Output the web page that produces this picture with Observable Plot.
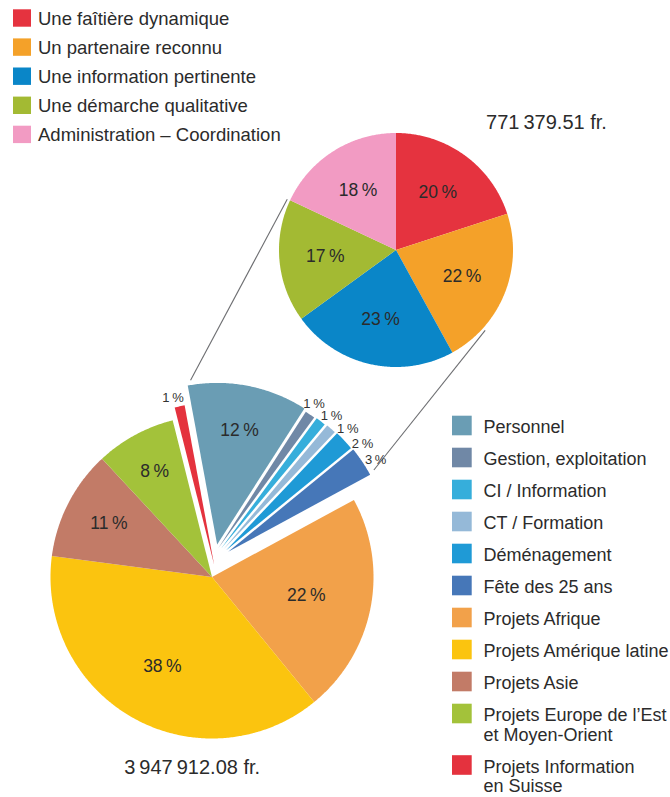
<!DOCTYPE html>
<html><head><meta charset="utf-8">
<script src="https://cdn.jsdelivr.net/npm/d3@7"></script>
<script src="https://cdn.jsdelivr.net/npm/@observablehq/plot@0.6"></script>
<style>body{margin:0;background:#fff;}</style>
</head><body><div id="chart"></div>
<script>
// ---------- DATA ----------
const bigCategories = ["Personnel", "Gestion, exploitation", "CI / Information", "CT / Formation", "Déménagement", "Fête des 25 ans", "Projets Afrique", "Projets Amérique latine", "Projets Asie", "Projets Europe de l’Est\net Moyen-Orient", "Projets Information\nen Suisse"];
const bigValues = [12, 1, 1, 1, 2, 3, 22, 38, 11, 8, 1];
const bigColors = ["#6a9db4", "#7088a6", "#36aedb", "#95b9d8", "#1f9ad6", "#4677b8", "#f2a14a", "#fbc40f", "#c27b67", "#a3c23a", "#e4323e"];
const bigTotal = 3947912.08;

const smallCategories = ["Une faîtière dynamique", "Un partenaire reconnu", "Une information pertinente", "Une démarche qualitative", "Administration – Coordination"];
const smallValues = [20, 22, 23, 17, 18];
const smallColors = ["#e5333f", "#f4a129", "#0a86c8", "#a3ba33", "#f29bc3"];
const smallTotal = 771379.51;

// ---------- LAYOUT ----------
const W = 670, H = 797;
const bigC = {x: 211.5, y: 576.5, r: 161.5, start: -10.5};
const explode = [[33, 9], [30, 12.7], [30, 17.7], [30, 22.7], [30, 27.7], [30, 32.7], [0, 0], [0, 0], [0, 0], [0, 0], [13, 9]];
const inLabelR = [116, null, null, null, null, null, 96, 102, 116, 120, null];
const smallC = {x: 395.5, y: 249.5, r: 117, start: 0, labelR: 71};
const font = "'Liberation Sans', Arial, sans-serif";
const ink = "#2b2b2b";

const rad = d => d * Math.PI / 180;
const pt = (cx, cy, r, a) => ({x: cx + r * Math.sin(a), y: cy - r * Math.cos(a)});
const pct = v => `${v}\u2009%`;
const fmt = v => d3.format(",.2f")(v).replace(/,/g, "\u2009") + " fr.";

const sliceRows = [];
function addSlice(id, color, cx, cy, r, a0, a1) {
  sliceRows.push({id, color, x: cx, y: cy});
  const n = Math.max(2, Math.ceil((a1 - a0) / rad(0.5)));
  for (let k = 0; k <= n; k++) sliceRows.push({id, color, ...pt(cx, cy, r, a0 + (a1 - a0) * k / n)});
}

// big pie
const bigArcs = d3.pie().sort(null).startAngle(rad(bigC.start)).endAngle(rad(bigC.start + 360))(bigValues);
const vertices = bigArcs.map((a, i) => {
  const [dist, dir] = explode[i];
  return pt(bigC.x, bigC.y, dist, rad(dir));
});
bigArcs.forEach((a, i) => addSlice("b" + i, bigColors[i], vertices[i].x, vertices[i].y, bigC.r, a.startAngle, a.endAngle));

const bigLabels = [];
const smallLabelsOut = [];
bigArcs.forEach((a, i) => {
  const mid = (a.startAngle + a.endAngle) / 2;
  if (inLabelR[i] != null) bigLabels.push({...pt(vertices[i].x, vertices[i].y, inLabelR[i], mid), text: pct(bigValues[i])});
});
// outside labels for the thin exploded slices (spread to avoid overlap)
const outIdx = [1, 2, 3, 4, 5];
const mids = outIdx.map(i => (bigArcs[i].startAngle + bigArcs[i].endAngle) / 2);
const gap = rad(6);
const spread = [];
mids.forEach((m, k) => spread.push(k === 0 ? m : Math.max(m, spread[k - 1] + gap)));
const shift = d3.mean(mids) - rad(1) - d3.mean(spread);
outIdx.forEach((i, k) => smallLabelsOut.push({...pt(bigC.x, bigC.y, 201, spread[k] + shift), text: pct(bigValues[i])}));
{
  const a = bigArcs[10];
  smallLabelsOut.push({...pt(bigC.x, bigC.y, 183, (a.startAngle + a.endAngle) / 2), text: pct(bigValues[10])});
}

// small pie
const smallArcs = d3.pie().sort(null).startAngle(rad(smallC.start)).endAngle(rad(smallC.start + 360))(smallValues);
smallArcs.forEach((a, i) => addSlice("s" + i, smallColors[i], smallC.x, smallC.y, smallC.r, a.startAngle, a.endAngle));
const smallLabels = smallArcs.map((a, i) => ({...pt(smallC.x, smallC.y, smallC.labelR, (a.startAngle + a.endAngle) / 2), text: pct(smallValues[i])}));

// connector lines
function connector(sliceIdx, useStart, smallAngleDeg) {
  const a = bigArcs[sliceIdx];
  const q = pt(vertices[sliceIdx].x, vertices[sliceIdx].y, bigC.r, useStart ? a.startAngle : a.endAngle);
  const p = pt(smallC.x, smallC.y, smallC.r + 3, rad(smallAngleDeg));
  const dx = q.x - p.x, dy = q.y - p.y, L = Math.hypot(dx, dy);
  return {x1: p.x, y1: p.y, x2: q.x - dx / L * 6, y2: q.y - dy / L * 6};
}
const links = [connector(0, true, 295), connector(5, false, 132)];

// legends
const legend1 = smallCategories.map((c, i) => ({x1: 13, x2: 31, y1: 18 + i * 29.1 - 8.7, y2: 18 + i * 29.1 + 8.7, cy: 18 + i * 29.1, color: smallColors[i], text: c, tx: 37.5}));
const legend2 = [];
{
  let y = 425.5;
  bigCategories.forEach((c, i) => {
    legend2.push({x1: 452, x2: 471.7, y1: y - 9.8, y2: y + 9.8, cy: y, color: bigColors[i], text: c, tx: 483});
    y += 32 + (c.split("\n").length - 1) * 19.5;
  });
}

const totals = [
  {x: 546, y: 128 - 0.32 * 20, text: fmt(smallTotal)},
  {x: 191.7, y: 773 - 0.32 * 20, text: fmt(bigTotal)}
];

const chart = Plot.plot({
  width: W, height: H, margin: 0,
  x: {domain: [0, W], range: [0, W], axis: null},
  y: {domain: [0, H], range: [0, H], axis: null},
  color: {type: "identity"},
  style: {fontFamily: font, background: "#fff", color: ink},
  marks: [
    Plot.line(sliceRows, {x: "x", y: "y", z: "id", fill: "color", stroke: "none", curve: "linear-closed"}),
    Plot.link(links, {x1: "x1", y1: "y1", x2: "x2", y2: "y2", stroke: "#6d6e71", strokeWidth: 1.1}),
    Plot.text(bigLabels, {x: "x", y: "y", text: "text", fontSize: 17.5, fill: ink}),
    Plot.text(smallLabels, {x: "x", y: "y", text: "text", fontSize: 17.5, fill: ink}),
    Plot.text(smallLabelsOut, {x: "x", y: "y", text: "text", fontSize: 13, fill: "#333"}),
    Plot.rect(legend1.concat(legend2), {x1: "x1", x2: "x2", y1: "y1", y2: "y2", fill: "color"}),
    Plot.text(legend1, {x: "tx", y: d => d.cy + 6.3 - 0.71 * 18.5, text: "text", fontSize: 18.5, textAnchor: "start", lineAnchor: "top", fill: ink}),
    Plot.text(legend2, {x: "tx", y: d => d.cy + 6 - 0.71 * 18, text: "text", fontSize: 18, textAnchor: "start", lineAnchor: "top", lineHeight: 19.5 / 18, fill: ink}),
    Plot.text(totals, {x: "x", y: "y", text: "text", fontSize: 20, fill: ink})
  ]
});
document.getElementById("chart").appendChild(chart);
</script>
</body></html>
